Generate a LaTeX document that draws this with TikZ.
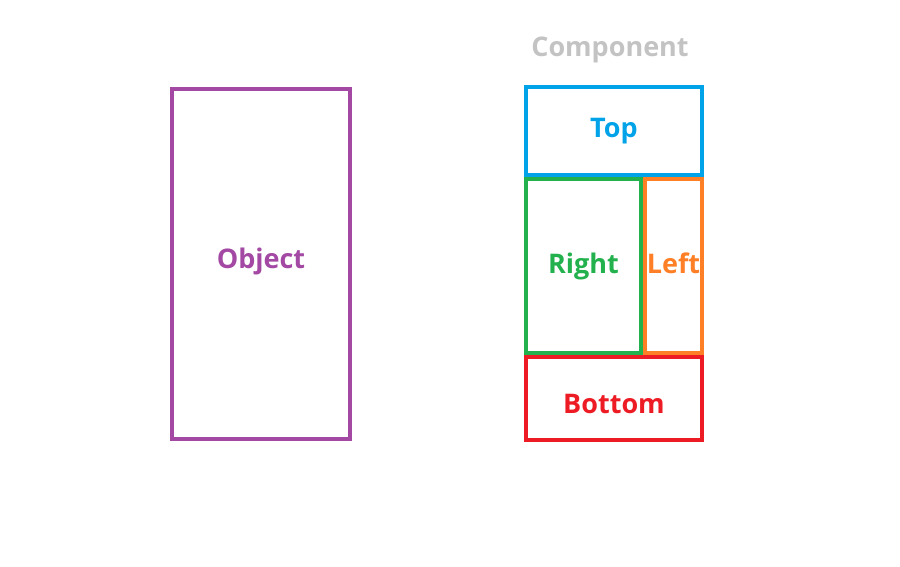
\documentclass[tikz,border=0pt]{standalone}
\usepackage{fontspec}
\setmainfont{Open Sans}
\definecolor{objpurple}{HTML}{A349A4}
\definecolor{topblue}{HTML}{00A2E8}
\definecolor{rightgreen}{HTML}{22B14C}
\definecolor{leftorange}{HTML}{FF7F27}
\definecolor{bottomred}{HTML}{ED1C24}
\definecolor{labelgray}{HTML}{C3C3C3}
\begin{document}
\begin{tikzpicture}[x=1pt, y=-1pt,
	box/.style={shape=rectangle, line width=4pt, inner sep=0pt, text height=19pt, text depth=5pt, font=\bfseries\fontsize{27}{32}\selectfont}]
	\useasboundingbox (0,0) rectangle (900,567);

	\node[box, draw=objpurple, text=objpurple, minimum width=178, minimum height=350, text height=13pt, text depth=5pt] (object) at (261,264) {Object};

	\node[font=\bfseries\fontsize{27}{32}\selectfont, text=labelgray]                    (component) at (610,50) {Component};
	\node[box, draw=topblue, text=topblue, minimum width=176, minimum height=88]        (top) at (614,131)      {Top};
	\node[box, draw=rightgreen, text=rightgreen, minimum width=115, minimum height=174]  (right) at (583.5,266) {Right};
	\node[box, draw=leftorange, text=leftorange, minimum width=57, minimum height=174]  (left) at (673.5,266)  {Left};
	\node[box, draw=bottomred, text=bottomred, minimum width=176, minimum height=83, text height=30pt, text depth=0pt] (bottom) at (614,398.5) {Bottom};
\end{tikzpicture}
\end{document}
